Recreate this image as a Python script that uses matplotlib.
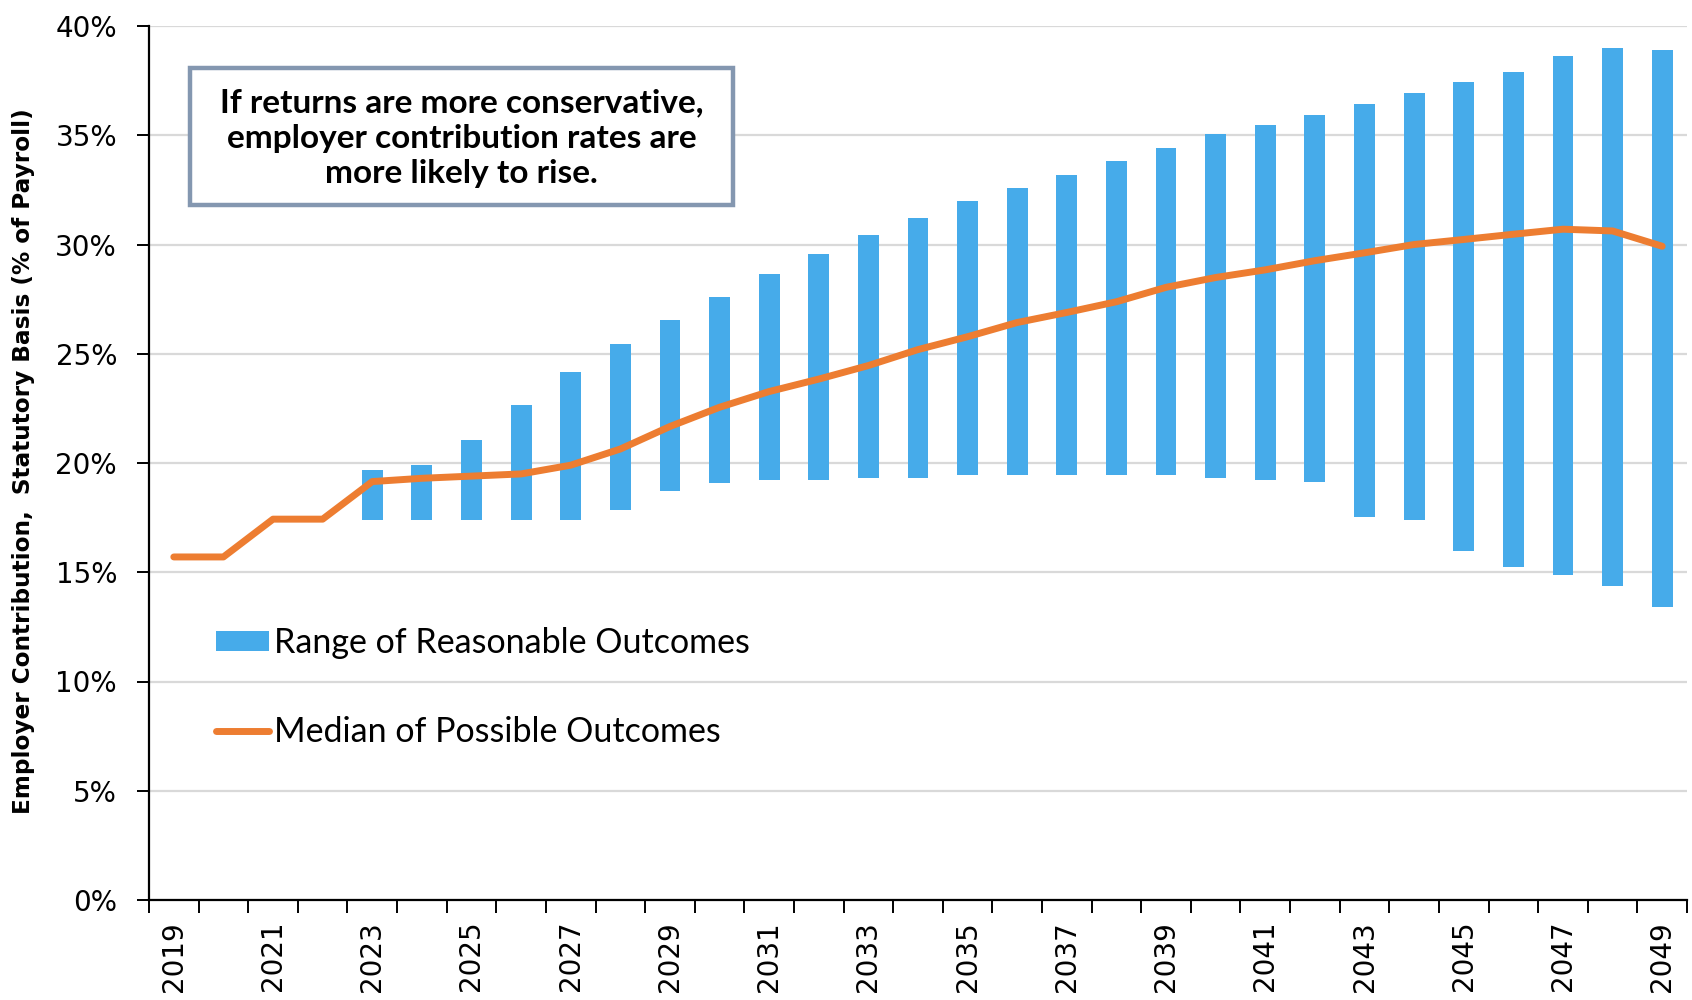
import matplotlib
matplotlib.use("Agg")
import matplotlib.pyplot as plt
from matplotlib.patches import Rectangle
from matplotlib.ticker import FixedLocator, FuncFormatter

# ---------------- data ----------------
years = list(range(2019, 2050))
median = [15.7, 15.7, 17.43, 17.43, 19.15, 19.3, 19.4, 19.5, 19.9, 20.64,
          21.67, 22.55, 23.27, 23.84, 24.46, 25.19, 25.78, 26.43, 26.89, 27.38,
          28.04, 28.49, 28.84, 29.26, 29.62, 30.0, 30.23, 30.47, 30.70, 30.62,
          29.92]
range_years = list(range(2023, 2050))
range_low = [17.4, 17.4, 17.4, 17.4, 17.4, 17.86, 18.72, 19.09, 19.21, 19.21,
             19.32, 19.32, 19.45, 19.45, 19.45, 19.45, 19.45, 19.32, 19.21, 19.11,
             17.53, 17.41, 15.95, 15.22, 14.86, 14.37, 13.39]
range_high = [19.68, 19.93, 21.03, 22.67, 24.15, 25.43, 26.54, 27.62, 28.63, 29.58,
              30.45, 31.2, 32.0, 32.6, 33.2, 33.8, 34.4, 35.06, 35.45, 35.94,
              36.43, 36.93, 37.43, 37.91, 38.64, 38.99, 38.88]
label_years = list(range(2019, 2050, 2))
y_ticks = [0, 5, 10, 15, 20, 25, 30, 35, 40]

ylabel = "Employer Contribution,  Statutory Basis (% of Payroll)"
note = "If returns are more conservative,\nemployer contribution rates are\nmore likely to rise."
leg_range = "Range of Reasonable Outcomes"
leg_median = "Median of Possible Outcomes"

BAR_C = "#46ABEA"
LINE_C = "#ED7D31"
GRID_C = "#D9D9D9"

fig = plt.figure(figsize=(16.92, 10), dpi=100)
ax = fig.add_axes([149/1692, 0.10, (1687-149)/1692, (900-26)/1000])

heights = [h - l for h, l in zip(range_high, range_low)]
bars = ax.bar(range_years, heights, bottom=range_low, width=0.42, color=BAR_C,
              zorder=2, label=leg_range)
line, = ax.plot(years, median, color=LINE_C, lw=5, solid_capstyle="round",
                solid_joinstyle="round", zorder=3, label=leg_median)

ax.set_xlim(2018.5, 2049.5)
ax.set_ylim(0, 40)

ax.yaxis.set_major_locator(FixedLocator(y_ticks))
ax.yaxis.set_major_formatter(FuncFormatter(lambda v, p: f"{int(v)}%"))
ax.grid(axis="y", color=GRID_C, lw=1.6, zorder=0)
ax.set_axisbelow(True)

ax.xaxis.set_major_locator(FixedLocator(label_years))
ax.xaxis.set_minor_locator(FixedLocator([y + 0.5 for y in range(2018, 2050)]))
ax.set_xticklabels([str(y) for y in label_years], rotation=90)
ax.tick_params(axis="x", which="major", length=0, pad=15, labelsize=20)
ax.tick_params(axis="x", which="minor", length=9, width=1.4, direction="out")
ax.tick_params(axis="y", which="major", length=9, width=1.4, pad=14, labelsize=20)

for s in ["top", "right"]:
    ax.spines[s].set_visible(False)
for s in ["left", "bottom"]:
    ax.spines[s].set_linewidth(1.6)
    ax.spines[s].set_color("black")
ax.spines["bottom"].set_zorder(4)

fig.text(24/1692, 1 - 461/1000, ylabel, rotation=90, ha="center", va="center",
         fontsize=16.7, fontweight="bold", family="DejaVu Sans")

# annotation box
x0 = (190-149)/1538; x1 = (733-149)/1538
y1 = (900-68)/874; y0 = (900-205)/874
ax.add_patch(Rectangle((x0, y0), x1-x0, y1-y0, transform=ax.transAxes,
                       facecolor="white", edgecolor="#8497B0", lw=3.2, zorder=5))
ax.text((x0+x1)/2, (y0+y1)/2 - 0.002, note, transform=ax.transAxes, ha="center",
        va="center", fontsize=24, fontweight="bold", family="Lato",
        linespacing=1.28, zorder=6)

leg = ax.legend([bars, line], [leg_range, leg_median],
                loc="upper left", bbox_to_anchor=(0.035, 0.328), frameon=False,
                prop={"family": "Lato", "size": 24.5}, borderaxespad=0,
                handlelength=1.55, handleheight=0.53, handletextpad=0.15,
                labelspacing=1.68)

fig.savefig("out.png", dpi=100)
